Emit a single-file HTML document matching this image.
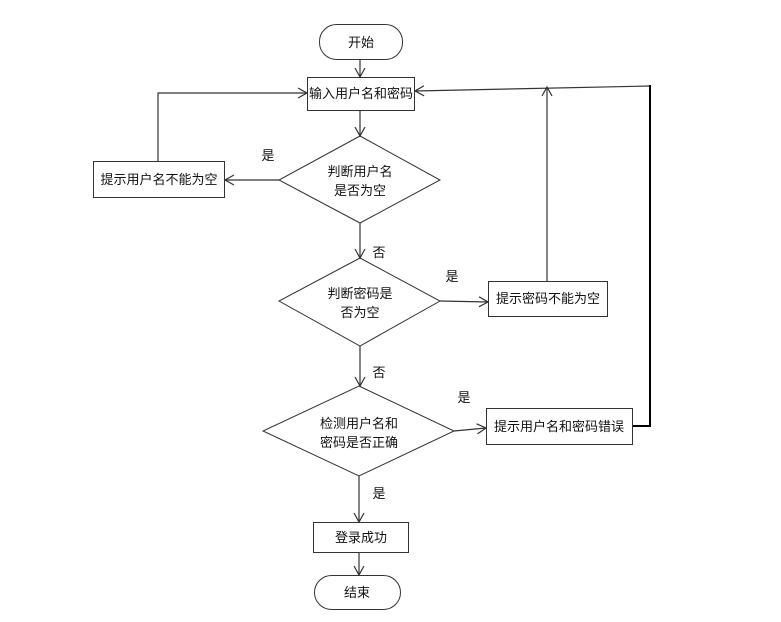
<!DOCTYPE html>
<html><head><meta charset="utf-8"><style>
html,body{margin:0;padding:0;background:#fff;}
svg text{font-family:"Liberation Sans","Noto Sans CJK SC",sans-serif;font-size:13px;fill:#111;}
</style></head><body>
<svg width="781" height="617" viewBox="0 0 781 617" xmlns="http://www.w3.org/2000/svg">
<defs>
<marker id="a" markerWidth="12" markerHeight="12" refX="10" refY="6" orient="auto" markerUnits="userSpaceOnUse">
<path d="M1,1 L10,6 L1,11" fill="none" stroke="#333" stroke-width="1.2"/>
</marker>
</defs>
<g fill="#fff" stroke="#333" stroke-width="1">
<rect x="319.5" y="24.5" width="83" height="35" rx="17"/>
<rect x="307.5" y="77.5" width="107" height="33"/>
<polygon points="360,136 440,180 360,223 279,180"/>
<rect x="93.5" y="161.5" width="131" height="36"/>
<polygon points="360,258 440,301 360,346 279,301"/>
<rect x="488.5" y="281.5" width="119" height="35"/>
<polygon points="359,386 454,431 359,476 263,431"/>
<rect x="486.5" y="408.5" width="146" height="36"/>
<rect x="313.5" y="522.5" width="95" height="30"/>
<rect x="314.5" y="575.5" width="86" height="34" rx="17"/>
</g>
<g fill="none" stroke="#333" stroke-width="1.2">
<line x1="360" y1="59" x2="360" y2="77" marker-end="url(#a)"/>
<line x1="360" y1="111" x2="360" y2="136" marker-end="url(#a)"/>
<line x1="279" y1="180" x2="225" y2="180" marker-end="url(#a)"/>
<polyline points="158,161 158,93 307,93" marker-end="url(#a)"/>
<line x1="360" y1="223" x2="360" y2="258" marker-end="url(#a)"/>
<line x1="440" y1="301" x2="488" y2="302" marker-end="url(#a)"/>
<line x1="547" y1="281" x2="547" y2="87" marker-end="url(#a)"/>
<line x1="360" y1="346" x2="360" y2="386" marker-end="url(#a)"/>
<line x1="454" y1="431" x2="486" y2="428" marker-end="url(#a)"/>
<line x1="359" y1="476" x2="359" y2="522" marker-end="url(#a)"/>
<line x1="359" y1="553" x2="359" y2="575" marker-end="url(#a)"/>
<line x1="650" y1="86" x2="415" y2="91" marker-end="url(#a)"/>
</g>
<polyline points="633,426 650,426 650,85" fill="none" stroke="#000" stroke-width="2"/>
<g text-anchor="middle">
<text x="361" y="47">开始</text>
<text x="361" y="98">输入用户名和密码</text>
<text x="360" y="176">判断用户名</text>
<text x="360" y="195">是否为空</text>
<text x="159" y="184">提示用户名不能为空</text>
<text x="360" y="298">判断密码是</text>
<text x="360" y="317">否为空</text>
<text x="548" y="303">提示密码不能为空</text>
<text x="359" y="428">检测用户名和</text>
<text x="359" y="447">密码是否正确</text>
<text x="559" y="431">提示用户名和密码错误</text>
<text x="361" y="542">登录成功</text>
<text x="357" y="597">结束</text>
<text x="268" y="160">是</text>
<text x="379" y="257">否</text>
<text x="452" y="281">是</text>
<text x="379" y="377">否</text>
<text x="464" y="402">是</text>
<text x="379" y="498">是</text>
</g>
</svg>
</body></html>
